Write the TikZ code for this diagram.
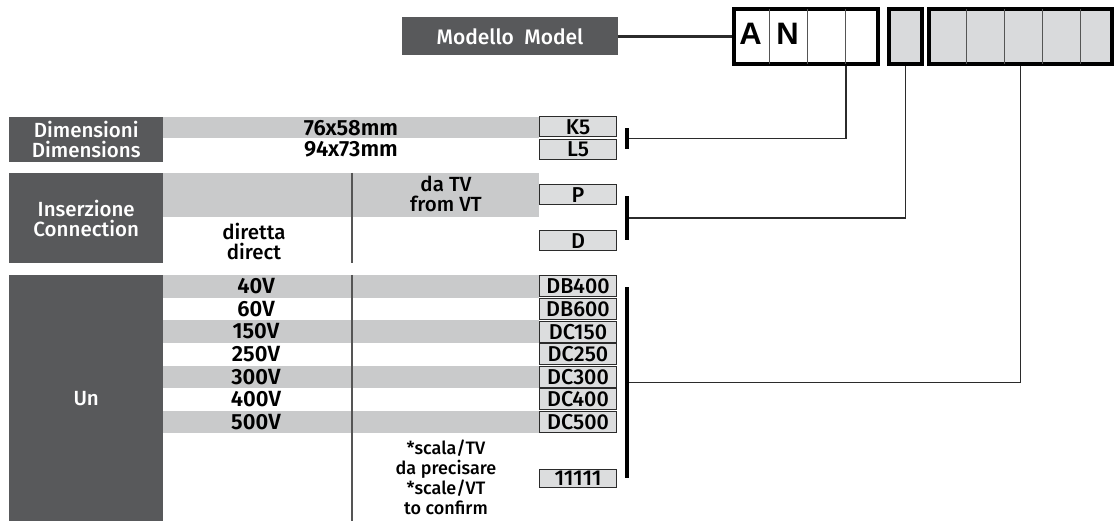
\documentclass[tikz,border=0pt]{standalone}
\usepackage{fontspec}
\setmainfont{Fira Sans Medium}[BoldFont={Fira Sans SemiBold}]
\newfontfamily\cellfont{Liberation Sans}
\definecolor{labgray}{HTML}{58595B}
\definecolor{rowgray}{HTML}{C9CACB}
\definecolor{codegray}{HTML}{DCDDDE}
\definecolor{cellgray}{HTML}{D9DADC}
\definecolor{ink}{HTML}{2B2B2B}
\definecolor{rule}{HTML}{555555}

\begin{document}
\begin{tikzpicture}
  [x=1pt,y=-1pt,
   lab/.style={fill=labgray,text=white,inner sep=0,anchor=north west,align=center,minimum width=154pt,font=\fontsize{20.5}{20}\selectfont},
   row/.style={fill=rowgray,inner sep=0,anchor=north west,minimum width=376pt},
   val/.style={inner sep=0,align=center,font=\bfseries\fontsize{22}{21}\selectfont},
   txt/.style={inner sep=0,align=center,font=\fontsize{20.5}{20.5}\selectfont},
   code/.style={draw=ink,line width=1pt,fill=codegray,inner sep=0,minimum width=77pt,minimum height=20pt,font=\fontsize{21.5}{20}\selectfont},
   bar/.style={fill=black,inner sep=0,minimum width=4pt},
   slot/.style={draw=black,line width=4pt,minimum height=55pt,inner sep=0},
   wire/.style={draw=ink,line width=1.3pt},
   sep/.style={draw=rule,line width=1.3pt},
   cellline/.style={draw=rule,line width=1pt}]
  \fill[white] (0,0) rectangle (1120,521);
  \useasboundingbox (0,0) rectangle (1120,521);

  \node[fill=labgray,text=white,inner sep=0,minimum width=216pt,minimum height=38pt,font=\fontsize{21}{22}\selectfont] (model) at (510,36.5) {Modello\ \ Model};
  \node[slot,fill=white,minimum width=144pt] (box1) at (806,36.5) {};
  \node[slot,fill=cellgray,minimum width=33pt] (box2) at (905.5,36.5) {};
  \node[slot,fill=cellgray,minimum width=183pt] (box3) at (1020.5,36.5) {};
  \foreach \x in {769,807,845} \draw[cellline] (\x,9) -- (\x,64);
  \foreach \x in {966,1004,1042,1080} \draw[cellline] (\x,9) -- (\x,64);
  \node[inner sep=0,font=\cellfont\bfseries\fontsize{31}{31}\selectfont] (a) at (750.5,34) {A};
  \node[inner sep=0,font=\cellfont\bfseries\fontsize{31}{31}\selectfont] (n) at (787.5,34) {N};

  \node[lab,minimum height=45pt] (dim) at (9,117) {Dimensioni\\Dimensions};
  \node[row,minimum height=21pt] (dimrow) at (163,117) {};
  \node[val] (d1) at (351,128) {76x58mm};
  \node[val] (d2) at (351,149) {94x73mm};
  \node[code] (k5) at (578,127) {K5};
  \node[code] (l5) at (578,149.5) {L5};
  \node[bar,minimum height=21pt] (bd) at (627,138.5) {};

  \node[lab,minimum height=90pt] (ins) at (9,173) {Inserzione\\Connection};
  \node[row,minimum height=44pt] (insrow) at (163,173) {};
  \draw[sep] (352,173) -- (352,263);
  \node[txt] (tv) at (446,194) {da TV\\from VT};
  \node[txt] (dir) at (254,241.5) {diretta\\direct};
  \node[code] (p) at (578,195) {P};
  \node[code] (d) at (578,241) {D};
  \node[bar,minimum height=44pt] (bi) at (627,218) {};

  \node[lab,minimum height=246pt] (un) at (9,275) {Un};
  \foreach \k in {0,2,4,6} \node[row,minimum height=22.6pt] (vr\k) at (163,{275+22.6*\k}) {};
  \draw[sep] (352,275) -- (352,521);
  \foreach \v [count=\i from 0] in {40V,60V,150V,250V,300V,400V,500V}
    \node[val] (v\i) at (256,{286.3+22.6*\i}) {\v};
  \foreach \c [count=\i from 0] in {DB400,DB600,DC150,DC250,DC300,DC400,DC500}
    \node[code,minimum height=21pt] (c\i) at (578,{286.5+22.6*\i}) {\c};
  \node[code,minimum height=18pt] (c7) at (578,478) {11111};
  \node[inner sep=0,align=center,font=\fontsize{18}{20}\selectfont] (note) at (446,477) {*scala/TV\\da precisare\\*scale/VT\\to confirm};
  \node[bar,minimum height=191pt] (bv) at (627,382.5) {};

  \coordinate (t1) at (846,66);
  \draw[wire,line width=2.5pt] (model) -- (box1);
  \draw[wire] (bd.east) -| (t1);
  \draw[wire] (bi.east) -| (box2.south);
  \draw[wire] (bv.east) -| (box3.south);
\end{tikzpicture}
\end{document}
